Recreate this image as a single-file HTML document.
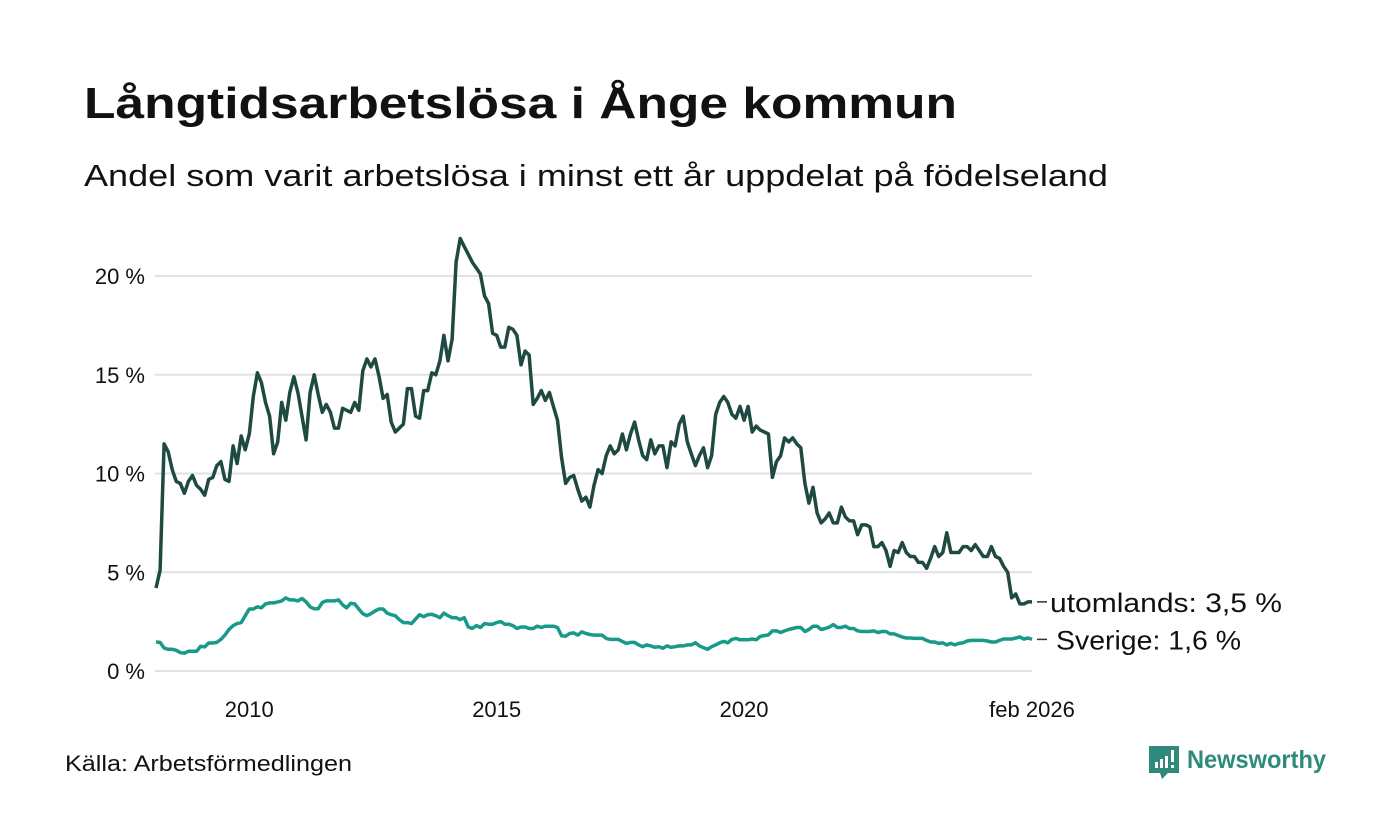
<!DOCTYPE html>
<html><head><meta charset="utf-8">
<style>
html,body{margin:0;padding:0;background:#fff;}
svg{display:block;font-family:"Liberation Sans","DejaVu Sans",sans-serif;}
</style></head>
<body>
<svg id="chart" width="1400" height="840" viewBox="0 0 1400 840">
<text x="84" y="118" font-size="44" font-weight="bold" fill="#111" textLength="873" lengthAdjust="spacingAndGlyphs">Långtidsarbetslösa i Ånge kommun</text>
<text x="84" y="186" font-size="31" fill="#111" textLength="1024" lengthAdjust="spacingAndGlyphs">Andel som varit arbetslösa i minst ett år uppdelat på födelseland</text>
<g id="grid"></g>
<g id="yticks"></g>
<g id="xticks"></g>
<g id="series"></g>
<g id="labels"></g>
<text x="65" y="771" font-size="22" fill="#111" textLength="287" lengthAdjust="spacingAndGlyphs">Källa: Arbetsförmedlingen</text>
<g>
<path d="M1149 746 h30 v27 h-11 l-6 6 l-2 -6 h-11 z" fill="#2e8b7c"/>
<rect x="1155" y="762" width="3" height="6" fill="#fff"/><rect x="1160" y="759" width="3" height="9" fill="#fff"/><rect x="1165" y="756" width="3" height="12" fill="#fff"/><rect x="1171" y="750" width="3" height="12" fill="#fff"/><rect x="1171" y="765" width="3" height="3" fill="#fff"/>
<text x="1187" y="768" font-size="25" font-weight="bold" fill="#2e8b7c" textLength="139" lengthAdjust="spacingAndGlyphs">Newsworthy</text>
</g>
</svg>
<script>
const yTicks = [0, 5, 10, 15, 20];
const yTickLabels = ["0 %", "5 %", "10 %", "15 %", "20 %"];
const xTickMonths = [23, 84, 145, 216];
const xTickLabels = ["2010", "2015", "2020", "feb 2026"];
const utomlands = [4.2,5.1,11.5,11.1,10.2,9.6,9.5,9.0,9.6,9.9,9.4,9.2,8.9,9.7,9.8,10.4,10.6,9.7,9.6,11.4,10.5,11.9,11.2,12.0,13.9,15.1,14.6,13.6,12.9,11.0,11.6,13.6,12.7,14.1,14.9,14.1,12.9,11.7,14.1,15.0,14.0,13.1,13.5,13.1,12.3,12.3,13.3,13.2,13.1,13.6,13.2,15.2,15.8,15.4,15.8,14.9,13.8,14.0,12.6,12.1,12.3,12.5,14.3,14.3,12.9,12.8,14.2,14.2,15.1,15.0,15.7,
17.0,15.7,16.8,20.7,21.9,21.5,21.1,20.7,20.4,20.1,19.0,18.6,17.1,17.0,16.4,16.4,17.4,17.3,17.0,15.5,16.2,16.0,13.5,13.8,14.2,13.7,14.1,13.4,12.7,10.8,9.5,9.8,9.9,9.2,8.6,8.8,8.3,9.4,10.2,10.0,10.9,11.4,11.0,11.2,12.0,11.2,12.0,12.6,11.7,10.9,10.7,11.7,11.0,11.4,11.4,10.3,11.6,11.4,12.5,12.9,11.6,11.0,10.4,10.9,11.3,10.3,10.9,13.0,13.6,13.9,13.6,13.0,12.8,
13.4,12.7,13.4,12.1,12.4,12.2,12.1,12.0,9.8,10.6,10.9,11.8,11.6,11.8,11.5,11.3,9.5,8.5,9.3,8.0,7.5,7.7,8.0,7.5,7.5,8.3,7.8,7.6,7.6,6.9,7.4,7.4,7.3,6.3,6.3,6.5,6.1,5.3,6.1,6.0,6.5,6.0,5.8,5.8,5.5,5.5,5.2,5.7,6.3,5.8,6.0,7.0,6.0,6.0,6.0,6.3,6.3,6.1,6.4,6.1,5.8,5.8,6.3,5.8,5.7,5.3,5.0,3.7,3.9,3.4,3.4,3.5,3.5];
const sverige = [1.47,1.45,1.16,1.1,1.1,1.05,0.93,0.9,1.0,1.0,1.0,1.25,1.22,1.42,1.42,1.45,1.6,1.82,2.1,2.3,2.4,2.45,2.8,3.14,3.14,3.25,3.2,3.4,3.45,3.45,3.5,3.55,3.7,3.6,3.6,3.55,3.67,3.5,3.25,3.15,3.15,3.47,3.55,3.55,3.55,3.6,3.35,3.2,3.43,3.4,3.14,2.9,2.8,2.9,3.04,3.14,3.14,2.93,2.85,2.8,2.6,2.45,2.45,2.4,2.63,2.85,2.75,2.85,2.87,2.8,2.7,
2.93,2.8,2.7,2.7,2.6,2.7,2.23,2.15,2.3,2.2,2.4,2.37,2.37,2.45,2.5,2.37,2.37,2.3,2.15,2.23,2.23,2.15,2.15,2.27,2.2,2.27,2.27,2.27,2.2,1.78,1.76,1.9,1.93,1.82,1.98,1.9,1.85,1.82,1.82,1.82,1.65,1.6,1.6,1.6,1.5,1.4,1.45,1.45,1.32,1.23,1.32,1.27,1.2,1.23,1.15,1.27,1.2,1.23,1.27,1.27,1.32,1.32,1.43,1.27,1.18,1.1,1.23,1.32,1.43,1.5,1.43,1.6,1.65,
1.58,1.58,1.58,1.62,1.58,1.75,1.8,1.83,2.03,2.03,1.95,2.03,2.1,2.15,2.2,2.2,2.0,2.1,2.27,2.27,2.1,2.15,2.22,2.35,2.2,2.2,2.27,2.15,2.15,2.03,2.0,2.0,2.0,2.03,1.95,2.0,2.0,1.88,1.88,1.8,1.72,1.67,1.67,1.65,1.65,1.65,1.55,1.47,1.47,1.4,1.43,1.32,1.4,1.32,1.4,1.43,1.52,1.55,1.55,1.55,1.55,1.52,1.47,1.47,1.55,1.62,1.62,1.62,1.67,1.72,1.62,1.67,1.6];
const seriesNames = ["utomlands", "Sverige"];
const seriesLabels = ["utomlands: 3,5 %", "Sverige: 1,6 %"];

const NS = "http://www.w3.org/2000/svg";
const X0 = 156, X1 = 1032, Y0 = 671, Y20 = 276;
const nPts = utomlands.length;
function xScale(i){ return X0 + (X1 - X0) * i / (nPts - 1); }
function yScale(v){ return Y0 + (Y20 - Y0) * v / 20; }
function mk(tag, attrs, parent){ const e = document.createElementNS(NS, tag); for (const k in attrs) e.setAttribute(k, attrs[k]); parent.appendChild(e); return e; }

const grid = document.getElementById('grid'), yt = document.getElementById('yticks'), xt = document.getElementById('xticks');
yTicks.forEach((v, k) => {
  const l = mk('line', {x1: 155, x2: 1032, y1: yScale(v), y2: yScale(v), stroke: '#e1e1e6', 'stroke-width': 2}, grid);
  
  
  const t = mk('text', {x: 145, y: yScale(v) + 8, 'font-size': 22, 'text-anchor': 'end', fill: '#111'}, yt);
  t.textContent = yTickLabels[k];
  
  
});
xTickMonths.forEach((m, k) => {
  const t = mk('text', {x: xScale(m), y: 717, 'font-size': 22, 'text-anchor': 'middle', fill: '#111'}, xt);
  t.textContent = xTickLabels[k];
  
  
});

const sg = document.getElementById('series'), lg = document.getElementById('labels');
const allSeries = [utomlands, sverige];
const colors = ['#1f4a42', '#179a88'];
const labelWidths = [232, 185];
allSeries.forEach((arr, s) => {
  const d = arr.map((v, i) => (i ? 'L' : 'M') + xScale(i).toFixed(1) + ' ' + yScale(v).toFixed(1)).join(' ');
  const p = mk('path', {d: d, fill: 'none', stroke: colors[s], 'stroke-width': 3.5, 'stroke-linejoin': 'round'}, sg);
  
  
  const last = arr[arr.length - 1];
  const ly = yScale(last);
  const ln = mk('line', {x1: 1037, x2: 1047, y1: ly, y2: ly, stroke: '#333', 'stroke-width': 1.5}, lg);
  
  
  const t = mk('text', {x: s === 0 ? 1050 : 1056, y: ly + 10, 'font-size': 27, fill: '#111', textLength: labelWidths[s], lengthAdjust: 'spacingAndGlyphs'}, lg);
  t.textContent = seriesLabels[s];
  
  
});
</script>
</body></html>
